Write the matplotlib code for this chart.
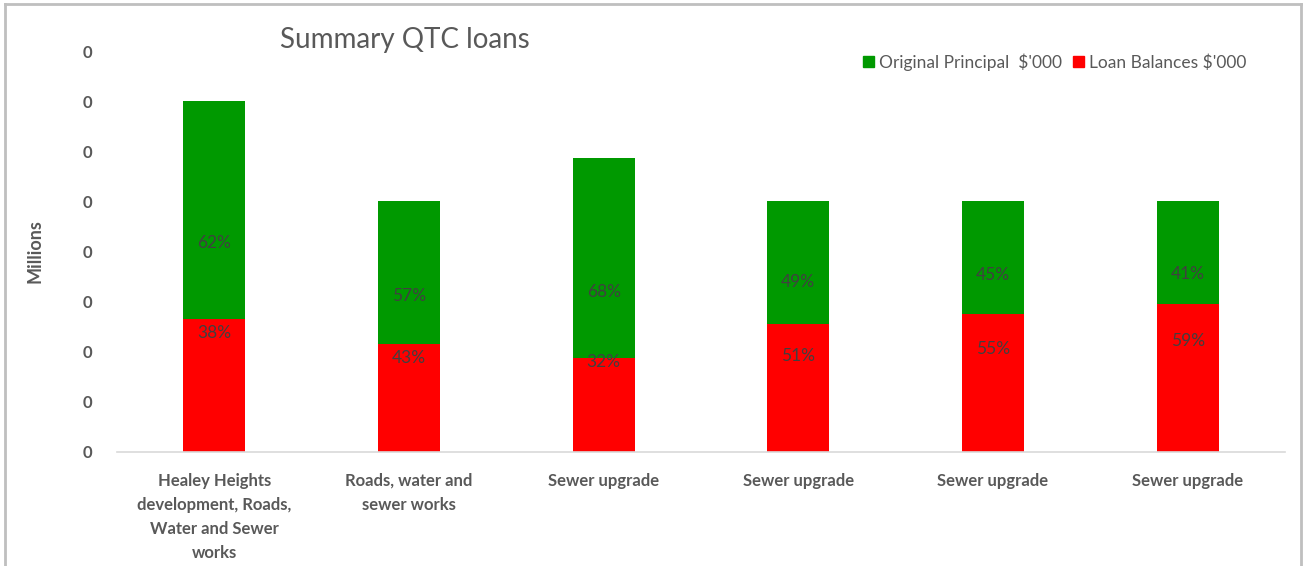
import matplotlib
matplotlib.use("Agg")
import matplotlib.pyplot as plt
from matplotlib.lines import Line2D
import numpy as np

categories = ["Healey Heights\ndevelopment, Roads,\nWater and Sewer\nworks",
              "Roads, water and\nsewer works",
              "Sewer upgrade", "Sewer upgrade", "Sewer upgrade", "Sewer upgrade"]
loan_balances = [2.66, 2.15, 1.88, 2.55, 2.75, 2.95]
original_principal = [4.34, 2.85, 3.99, 2.45, 2.25, 2.05]
ytick_values = [0, 1, 2, 3, 4, 5, 6, 7, 8]
ytick_labels = ["0"] * 9

# label placement (fraction of the segment, as in the source chart)
red_label_frac = [0.89, 0.87, 0.96, 0.75, 0.75, 0.75]
green_label_frac = [0.35, 0.34, 0.33, 0.34, 0.35, 0.29]

GREEN = "#009900"
RED = "#ff0000"
GREY = "#595959"
FONT = ["Lato", "DejaVu Sans"]
plt.rcParams["font.family"] = FONT

fig = plt.figure(figsize=(13.03, 5.66), dpi=100)
ax = fig.add_axes([117/1303, 1-452/566, (1285-117)/1303, (452-51)/566])

x = np.arange(len(categories))
w = 0.32
bal = np.array(loan_balances)
pri = np.array(original_principal)
tot = bal + pri
ax.bar(x, bal, w, color=RED, label="Loan Balances $'000", zorder=2)
ax.bar(x, pri, w, bottom=bal, color=GREEN, label="Original Principal  $'000", zorder=2)

for i in range(len(x)):
    pg = round(100 * pri[i] / tot[i])
    pr = round(100 * bal[i] / tot[i])
    ax.text(x[i], bal[i] + green_label_frac[i] * pri[i], f"{pg}%", ha="center", va="center",
            fontsize=12.5, color="#404040", zorder=3)
    ax.text(x[i], red_label_frac[i] * bal[i], f"{pr}%", ha="center", va="center",
            fontsize=12.5, color="#404040", zorder=3)

ax.set_xlim(-0.5, len(x) - 0.5)
ax.set_ylim(0, 8)
ax.set_yticks(ytick_values)
ax.set_yticklabels(ytick_labels, fontsize=12, color=GREY, fontweight="bold")
ax.set_xticks(x)
ax.set_xticklabels(categories, fontsize=12, color=GREY, fontweight="bold", linespacing=1.62)
ax.tick_params(axis="both", length=0)
ax.tick_params(axis="y", pad=18)
ax.tick_params(axis="x", pad=15)
for s in ["top", "right", "left"]:
    ax.spines[s].set_visible(False)
ax.spines["bottom"].set_color("#d9d9d9")
ax.spines["bottom"].set_linewidth(1.2)

ax.set_ylabel("Millions", fontsize=13, color=GREY, fontweight="bold", labelpad=28)

fig.text(280/1303, 1-40/566, "Summary QTC loans", fontsize=20, color=GREY,
         ha="left", va="center")

handles = [plt.Rectangle((0, 0), 1, 1, color=GREEN), plt.Rectangle((0, 0), 1, 1, color=RED)]
labels = ["Original Principal  $'000", "Loan Balances $'000"]
fig.legend(handles, labels, loc="center right", bbox_to_anchor=(1262/1303, 1-62/566),
           ncol=2, frameon=False, fontsize=12.5, labelcolor=GREY,
           handlelength=0.65, handleheight=0.65, handletextpad=0.3, columnspacing=0.6)

# chart border
fig.add_artist(Line2D([4.5/1303, 4.5/1303], [0, 1-4/566], transform=fig.transFigure, color="#bfbfbf", lw=2))
fig.add_artist(Line2D([4.5/1303, 1301/1303], [1-4/566, 1-4/566], transform=fig.transFigure, color="#bfbfbf", lw=2))
fig.add_artist(Line2D([1301/1303, 1301/1303], [0, 1-4/566], transform=fig.transFigure, color="#bfbfbf", lw=2))

fig.savefig("out.png", dpi=100)
